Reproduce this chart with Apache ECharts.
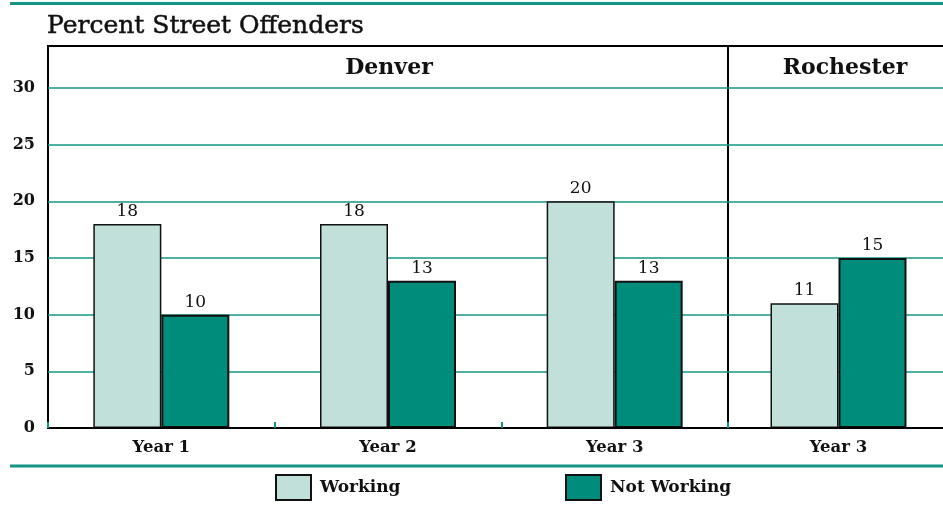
<!DOCTYPE html>
<html>
<head>
<meta charset="utf-8">
<script src="https://cdn.jsdelivr.net/npm/echarts@6/dist/echarts.min.js"></script>
<style>html,body{margin:0;padding:0;background:#fff;overflow:hidden}#c{width:960px;height:506px}</style>
</head>
<body>
<div id="c"></div>
<script>
const titleText = 'Percent Street Offenders';
const regions = ['Denver', 'Rochester'];
const categoriesDenver = ['Year 1', 'Year 2', 'Year 3'];
const workingDenver = [18, 18, 20];
const notWorkingDenver = [10, 13, 13];
const categoriesRochester = ['Year 3'];
const workingRochester = [11];
const notWorkingRochester = [15];
const seriesNames = ['Working', 'Not Working'];

const FONT = '"DejaVu Serif", "Liberation Serif", serif';
const LIGHT = '#c2e0da';
const DARK = '#008c7a';
const TEAL = '#139485';

const chart = echarts.init(document.getElementById('c'), null, {renderer: 'canvas'});

function xAx(gi, cats) {
  return {
    type: 'category', gridIndex: gi, data: cats,
    axisLine: {show: true, lineStyle: {color: '#000', width: 2}},
    axisTick: {show: true, inside: true, length: 6, lineStyle: {color: TEAL, width: 2}},
    axisLabel: {color: '#111', fontFamily: FONT, fontWeight: 'bold', fontSize: 16.5, margin: 11},
    z: 5
  };
}
function yAx(gi, showLabels) {
  return {
    type: 'value', gridIndex: gi, min: 0, max: 33.7, interval: 5,
    axisLine: {show: false}, axisTick: {show: false},
    axisLabel: {show: showLabels, color: '#111', fontFamily: FONT, fontWeight: 'bold', fontSize: 16, margin: 13,
      formatter: v => (v % 5 === 0 ? String(v) : '')},
    splitLine: {show: true, showMaxLine: false, lineStyle: {color: TEAL, width: 1.5}}
  };
}
function bar(name, gi, data, color, bw) {
  return {
    name: name, type: 'bar', xAxisIndex: gi, yAxisIndex: gi, data: data,
    barWidth: 68, barGap: '0%',
    itemStyle: {color: color, borderColor: '#111', borderWidth: bw},
    label: {show: true, position: 'top', distance: 4, color: '#111', fontFamily: FONT, fontSize: 17},
    z: 3
  };
}
const legendText = {fontFamily: FONT, fontWeight: 'bold', fontSize: 17, color: '#111', padding: [0, 0, 0, 4]};

chart.setOption({
  animation: false,
  backgroundColor: '#fff',
  title: {text: titleText, left: 47, top: 14, padding: 0,
    textStyle: {fontFamily: FONT, fontWeight: 'normal', fontSize: 25, color: '#111', textBorderColor: '#111', textBorderWidth: 0.5}},
  grid: [
    {left: 48, top: 46, width: 680, bottom: 78, show: true, borderColor: '#000', borderWidth: 2, containLabel: false},
    {left: 728, top: 46, width: 221, bottom: 78, show: true, borderColor: '#000', borderWidth: 2, containLabel: false}
  ],
  legend: [
    {data: [seriesNames[0]], left: 275, top: 474, padding: 0, icon: 'rect', itemWidth: 35, itemHeight: 25, itemGap: 10,
      textStyle: legendText, selectedMode: false},
    {data: [seriesNames[1]], left: 565, top: 474, padding: 0, icon: 'rect', itemWidth: 35, itemHeight: 25, itemGap: 10,
      textStyle: legendText, selectedMode: false}
  ],
  xAxis: [xAx(0, categoriesDenver), xAx(1, categoriesRochester)],
  yAxis: [yAx(0, true), yAx(1, false)],
  series: [
    bar(seriesNames[0], 0, workingDenver, LIGHT, 1.5),
    bar(seriesNames[1], 0, notWorkingDenver, DARK, 2),
    bar(seriesNames[0], 1, workingRochester, LIGHT, 1.5),
    bar(seriesNames[1], 1, notWorkingRochester, DARK, 2)
  ],
  graphic: [
    {type: 'line', shape: {x1: 10, y1: 3.5, x2: 960, y2: 3.5}, style: {stroke: TEAL, lineWidth: 3}},
    {type: 'line', shape: {x1: 10, y1: 466, x2: 960, y2: 466}, style: {stroke: TEAL, lineWidth: 3}},
    {type: 'text', x: 389, y: 68, style: {text: regions[0], fill: '#111', font: 'bold 22px ' + FONT, textAlign: 'center', textVerticalAlign: 'middle'}},
    {type: 'text', x: 845, y: 68, style: {text: regions[1], fill: '#111', font: 'bold 22px ' + FONT, textAlign: 'center', textVerticalAlign: 'middle'}}
  ]
});
</script>
</body>
</html>
